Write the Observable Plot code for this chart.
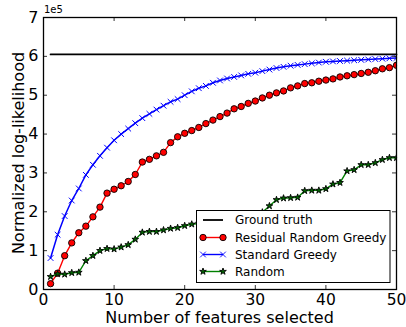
<!DOCTYPE html>
<html><head><meta charset="utf-8">
<script src="https://cdn.jsdelivr.net/npm/d3@7"></script>
<script src="https://cdn.jsdelivr.net/npm/@observablehq/plot@0.6"></script>
<style>
body{margin:0;background:#fff}
#chart{position:relative;width:406px;height:327px}
svg{font-family:"DejaVu Sans",sans-serif}
</style>
</head><body><div id="chart"></div>
<script>
const unit = 1e5;
const features = d3.range(1, 51);
const groundTruth = 6.05;
const residualRandomGreedy = [0.15,0.42,0.87,1.20,1.46,1.63,1.87,2.12,2.48,2.58,
  2.67,2.78,2.96,3.28,3.35,3.44,3.53,3.78,3.93,4.02,
  4.09,4.17,4.27,4.36,4.45,4.54,4.65,4.71,4.79,4.85,
  4.93,5.00,5.06,5.11,5.19,5.24,5.30,5.32,5.36,5.39,
  5.42,5.47,5.50,5.53,5.56,5.59,5.63,5.68,5.71,5.77];
const standardGreedy = [0.81,1.41,1.89,2.29,2.60,2.95,3.21,3.44,3.65,3.84,
  4.00,4.14,4.28,4.41,4.52,4.63,4.73,4.83,4.90,5.00,
  5.10,5.18,5.24,5.32,5.38,5.43,5.47,5.51,5.55,5.58,
  5.62,5.66,5.70,5.73,5.76,5.78,5.80,5.82,5.84,5.86,
  5.87,5.88,5.89,5.90,5.91,5.92,5.93,5.94,5.95,5.96];
const randomSel = [0.33,0.40,0.39,0.43,0.44,0.74,0.87,1.00,1.05,1.04,
  1.09,1.15,1.29,1.47,1.49,1.49,1.53,1.57,1.59,1.64,
  1.68,1.70,1.72,1.74,1.77,1.80,1.83,1.86,1.89,1.92,
  1.99,2.15,2.31,2.35,2.36,2.37,2.54,2.55,2.55,2.59,
  2.71,2.75,3.05,3.08,3.21,3.21,3.26,3.34,3.39,3.39];
const xTicks = [0, 10, 20, 30, 40, 50];
const yTicks = [0, 1, 2, 3, 4, 5, 6, 7];
const seriesNames = ["Ground truth", "Residual Random Greedy", "Standard Greedy", "Random"];
const xLabel = "Number of features selected";
const yLabel = "Normalized log-likelihood";
const offsetLabel = "1e5";

const W = 406, H = 327, mL = 43, mR = 10, mT = 17, mB = 38;
const plotW = W - mL - mR, plotH = H - mT - mB;

const gt = features.map(x => ({x, y: groundTruth * unit}));
const rrg = features.map((x, i) => ({x, y: residualRandomGreedy[i] * unit}));
const sg = features.map((x, i) => ({x, y: standardGreedy[i] * unit}));
const rnd = features.map((x, i) => ({x, y: randomSel[i] * unit}));
const yT = yTicks.map(v => v * unit);

const chart = Plot.plot({
  width: W, height: H,
  marginLeft: mL, marginRight: mR, marginTop: mT, marginBottom: mB,
  style: {fontFamily: "DejaVu Sans", fontSize: "16px", color: "black", background: "white"},
  x: {domain: [0, 50]},
  y: {domain: [0, 7 * unit]},
  marks: [
    Plot.lineY(gt, {x: "x", y: "y", stroke: "black", strokeWidth: 1.8}),
    Plot.lineY(rrg, {x: "x", y: "y", stroke: "#ff0000", strokeWidth: 1.4}),
    Plot.dot(rrg, {x: "x", y: "y", r: 3.2, fill: "#ff0000", stroke: "black", strokeWidth: 0.9, clip: "frame"}),
    Plot.lineY(sg, {x: "x", y: "y", stroke: "#0000ff", strokeWidth: 1.5}),
    Plot.dot(sg, {x: "x", y: "y", r: 2.7, symbol: "times", stroke: "#0000ff", strokeWidth: 1, clip: "frame"}),
    Plot.lineY(rnd, {x: "x", y: "y", stroke: "#008000", strokeWidth: 1.4}),
    Plot.dot(rnd, {x: "x", y: "y", r: 2.1, symbol: "star", fill: "#006400", stroke: "black", strokeWidth: 0.9, clip: "frame"}),
    Plot.ruleX(xTicks, {x: d => d, insetTop: plotH - 4, stroke: "black", strokeWidth: 0.8}),
    Plot.ruleX(xTicks, {x: d => d, insetBottom: plotH - 4, stroke: "black", strokeWidth: 0.8}),
    Plot.ruleY(yT, {y: d => d, insetRight: plotW - 4, stroke: "black", strokeWidth: 0.8}),
    Plot.ruleY(yT, {y: d => d, insetLeft: plotW - 4, stroke: "black", strokeWidth: 0.8}),
    Plot.axisX({ticks: xTicks, tickSize: 0, tickPadding: 4, label: null, fontSize: 15.5, tickFormat: d => String(d)}),
    Plot.axisY({ticks: yT, tickSize: 0, tickPadding: 5, label: null, tickFormat: d => String(d / unit)}),
    Plot.frame({stroke: "black", strokeWidth: 1.3})
  ]
});
document.getElementById("chart").appendChild(chart);

const svg = d3.select(chart);
svg.append("text").attr("x", mL + plotW / 2).attr("y", 323).attr("text-anchor", "middle")
  .attr("font-size", 16).attr("fill", "black").text(xLabel);
svg.append("text").attr("transform", `translate(24,${mT + plotH / 2}) rotate(-90)`)
  .attr("text-anchor", "middle").attr("font-size", 16).attr("fill", "black").text(yLabel);
svg.append("text").attr("x", mL + 1).attr("y", 13).attr("text-anchor", "start")
  .attr("font-size", 10).attr("fill", "black").text(offsetLabel);

// legend
const lg = svg.append("g");
lg.append("rect").attr("x", 196.5).attr("y", 210.5).attr("width", 193.5).attr("height", 72)
  .attr("fill", "white").attr("stroke", "black").attr("stroke-width", 1);
const rowsY = [220, 237.5, 254.5, 271.5];
const styles = [
  {stroke: "black", sym: null},
  {stroke: "#ff0000", sym: d3.symbolCircle, r: 3.2, fill: "#ff0000", mstroke: "black"},
  {stroke: "#0000ff", sym: d3.symbolTimes, r: 2.7, fill: "none", mstroke: "#0000ff"},
  {stroke: "#008000", sym: d3.symbolStar, r: 2.1, fill: "#006400", mstroke: "black"}
];
seriesNames.forEach((name, i) => {
  const y = rowsY[i], s = styles[i];
  lg.append("line").attr("x1", 203).attr("x2", 223).attr("y1", y).attr("y2", y)
    .attr("stroke", s.stroke).attr("stroke-width", i === 0 ? 1.8 : 1.4);
  if (s.sym) {
    [203, 223].forEach(px => {
      lg.append("path").attr("transform", `translate(${px},${y})`)
        .attr("d", d3.symbol(s.sym, Math.PI * s.r * s.r)())
        .attr("fill", s.fill).attr("stroke", s.mstroke).attr("stroke-width", 0.9);
    });
  }
  lg.append("text").attr("x", 235).attr("y", y).attr("dy", "0.35em")
    .attr("text-anchor", "start")
    .attr("font-size", 12).attr("fill", "black").text(name);
});
</script>
</body></html>
